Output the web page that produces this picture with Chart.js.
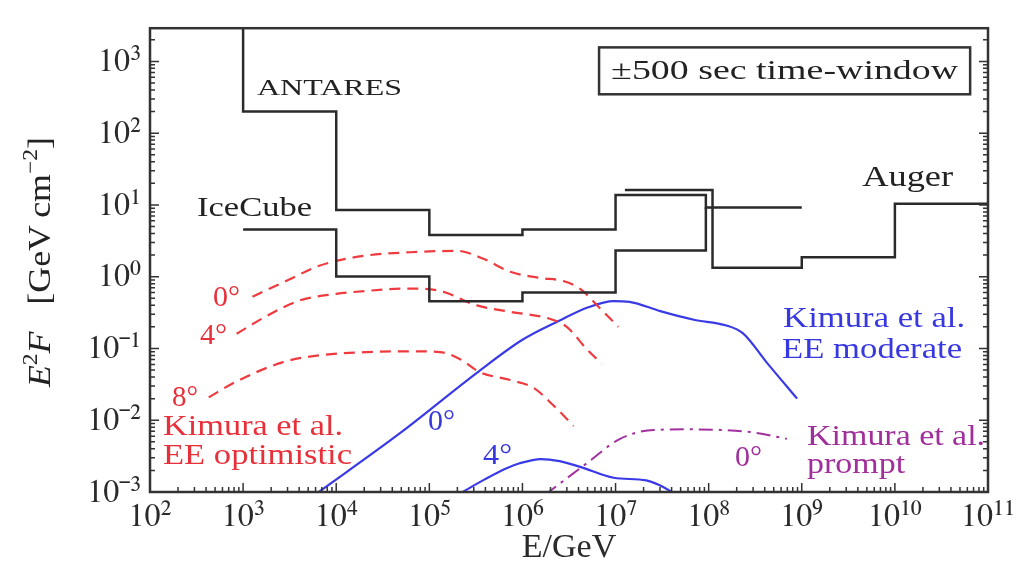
<!DOCTYPE html>
<html><head><meta charset="utf-8">
<script src="https://cdn.jsdelivr.net/npm/chart.js@4.4.1/dist/chart.umd.min.js"></script>
<style>html,body{margin:0;padding:0;background:#fff;}#wrap{width:1027px;height:574px;}</style>
</head><body><div id="wrap"><canvas id="c" width="1027" height="574"></canvas></div>
<script>
// ---------- data ----------
const xTicks = [1e2, 1e3, 1e4, 1e5, 1e6, 1e7, 1e8, 1e9, 1e10, 1e11];
const yTicks = [1e-3, 1e-2, 1e-1, 1e0, 1e1, 1e2, 1e3];

// step limits (bin start energies, level from that energy on)
const antaresE = [1e3, 1e3, 1e4, 1e5, 1e6, 1e7, 9.33e7, 1e9];
const antaresF = [1e4, 200, 8.5, 3.8, 4.55, 13.8, 9.2, 9.2];
const icecubeE = [1e3, 1e4, 1e5, 1e6, 1e7, 9.33e7];
const icecubeF = [4.55, 1.01, 0.454, 0.60, 2.31, 9.2];
const augerE = [1.26e7, 1.1e8, 1e9, 1e10, 1e11];
const augerF = [16.1, 1.33, 1.87, 10.4, 10.4];

// Kimura et al. EE optimistic (red dashed)
const opt0E = [1.26e3, 3.16e3, 6.17e3, 1.0e4, 2.14e4, 6.17e4, 2.0e5, 3.8e5, 7.41e5, 1.55e6, 2.75e6, 4.17e6, 6.76e6, 1.07e7];
const opt0F = [0.525, 0.92, 1.38, 1.66, 1.98, 2.19, 2.29, 1.78, 1.17, 0.96, 0.87, 0.676, 0.366, 0.20];
const opt4E = [8.51e2, 1.78e3, 4.07e3, 1.0e4, 2.14e4, 6.17e4, 1.30e5, 3.24e5, 7.41e5, 2.0e6, 2.99e6, 4.9e6, 7.08e6];
const opt4F = [0.16, 0.282, 0.468, 0.575, 0.635, 0.684, 0.635, 0.398, 0.324, 0.257, 0.20, 0.098, 0.0617];
const opt8E = [4.27e2, 8.51e2, 2.69e3, 6.17e3, 2.14e4, 6.17e4, 1.30e5, 2.14e5, 3.47e5, 7.41e5, 1.32e6, 2.14e6, 3.55e6];
const opt8F = [0.0209, 0.0347, 0.0646, 0.0794, 0.0891, 0.0912, 0.0891, 0.0708, 0.0468, 0.0363, 0.0282, 0.0162, 0.0083];

// Kimura et al. EE moderate (blue solid)
const mod0E = [6.17e3, 4.84e4, 3.24e5, 1.0e6, 2.51e6, 5.01e6, 9.55e6, 1.41e7, 3.02e7, 6.92e7, 1.55e8, 2.34e8, 4.17e8, 8.91e8];
const mod0F = [9.55e-4, 6.6e-3, 0.0457, 0.132, 0.245, 0.372, 0.457, 0.447, 0.331, 0.251, 0.209, 0.162, 0.0646, 0.020];
const mod4E = [2.14e5, 3.98e5, 6.76e5, 9.33e5, 1.58e6, 2.51e6, 4.17e6, 9.55e6, 2.14e7, 3.02e7, 4.57e7];
const mod4F = [9.55e-4, 1.51e-3, 2.14e-3, 2.51e-3, 2.88e-3, 2.69e-3, 2.24e-3, 1.58e-3, 1.45e-3, 1.23e-3, 9.1e-4];

// Kimura et al. prompt (purple dash-dot)
const prompt0E = [1.74e6, 4.9e6, 1.12e7, 2.57e7, 5.75e7, 1.32e8, 3.02e8, 6.92e8];
const prompt0F = [9.1e-4, 2.51e-3, 5.5e-3, 7.33e-3, 7.46e-3, 7.33e-3, 6.76e-3, 5.5e-3];

// text annotations (data coordinates)
const notes = [
  {t:'ANTARES', x:1.41e3, y:336, size:23, w:145, c:'#222'},
  {t:'IceCube', x:320, y:7.0, size:27, w:115, c:'#222'},
  {t:'Auger', x:4.45e9, y:18.2, size:29, w:91, c:'#222'},
  {t:'0°', x:475, y:0.389, size:30, w:27, c:'#e8303a'},
  {t:'4°', x:344, y:0.117, size:30, w:27, c:'#e8303a'},
  {t:'8°', x:172, y:0.0159, size:30, w:26, c:'#e8303a'},
  {t:'Kimura et al.', x:138, y:0.00614, size:30, w:180, c:'#e8303a'},
  {t:'EE optimistic', x:138, y:0.00244, size:30, w:189, c:'#e8303a'},
  {t:'0°', x:9.68e4, y:0.00738, size:30, w:27, c:'#3838e0'},
  {t:'4°', x:3.78e5, y:0.00244, size:30, w:29, c:'#3838e0'},
  {t:'Kimura et al.', x:6.3e8, y:0.198, size:30, w:182, c:'#3838e0'},
  {t:'EE moderate', x:6.14e8, y:0.074, size:30, w:180, c:'#3838e0'},
  {t:'Kimura et al.', x:1.14e9, y:0.00451, size:30, w:178, c:'#a02f9c'},
  {t:'prompt', x:1.14e9, y:0.00185, size:30, w:98, c:'#a02f9c'},
  {t:'0°', x:1.92e8, y:0.00229, size:30, w:27, c:'#a02f9c'}
];
const boxText = '±500 sec time-window';
const boxRange = {x0:6.65e6, x1:6.43e10, y0:348, y1:1567};

// ---------- helpers ----------
const FONT = '"Liberation Serif", "Times New Roman", serif';
const TICKFONT = '"FreeSerif", "Liberation Serif", serif';
function pts(E, F){ return E.map((e,i)=>({x:e, y:F[i]})); }
function sup(s){ const m={'0':'⁰','1':'¹','2':'²','3':'³','4':'⁴','5':'⁵','6':'⁶','7':'⁷','8':'⁸','9':'⁹','-':'⁻'}; return s.split('').map(c=>m[c]||c).join(''); }
function powLabel(v){ const e=Math.round(Math.log10(v)); return '10'+sup(String(e)); }

const frameTicks = {
  id:'frameTicks',
  afterDatasetsDraw(chart){
    const {ctx, chartArea:a, scales:{x, y}} = chart;
    ctx.save();
    ctx.strokeStyle = '#333'; ctx.lineWidth = 1.5;
    ctx.beginPath();
    for (let d=-3; d<=3; d++) for (let k=1; k<=9; k++){
      const v = k*Math.pow(10,d); if (v < y.min || v > y.max) continue;
      const py = y.getPixelForValue(v); const len = k===1 ? 9 : 5;
      ctx.moveTo(a.left, py); ctx.lineTo(a.left+len, py);
      ctx.moveTo(a.right, py); ctx.lineTo(a.right-len, py);
    }
    for (let d=2; d<=11; d++) for (let k=1; k<=9; k++){
      const v = k*Math.pow(10,d); if (v < x.min || v > x.max) continue;
      const px = x.getPixelForValue(v); const len = k===1 ? 9 : 5;
      ctx.moveTo(px, a.bottom); ctx.lineTo(px, a.bottom-len);
    }
    ctx.stroke();
    ctx.lineWidth = 2.5; ctx.strokeStyle = '#333';
    ctx.strokeRect(a.left, a.top, a.right-a.left, a.bottom-a.top);
    ctx.restore();
  },
  afterDraw(chart){
    const {ctx, chartArea:a, scales:{x, y}} = chart;
    ctx.save();
    const bx0 = x.getPixelForValue(boxRange.x0), bx1 = x.getPixelForValue(boxRange.x1);
    const by0 = y.getPixelForValue(boxRange.y1), by1 = y.getPixelForValue(boxRange.y0);
    ctx.fillStyle = '#fff'; ctx.fillRect(bx0, by0, bx1-bx0, by1-by0);
    ctx.strokeStyle = '#333'; ctx.lineWidth = 2.5; ctx.strokeRect(bx0, by0, bx1-bx0, by1-by0);
    ctx.font = `27px ${FONT}`;
    const bw = ctx.measureText(boxText).width, target = 347;
    ctx.save(); ctx.translate((bx0+bx1)/2 - target/2, by1 - 15); ctx.scale(target/bw, 1);
    ctx.fillStyle = '#222'; ctx.textBaseline = 'alphabetic'; ctx.fillText(boxText, 0, 0); ctx.restore();
    for (const n of notes){
      ctx.font = `${n.size}px ${FONT}`;
      const m = ctx.measureText(n.t).width;
      ctx.save();
      ctx.translate(x.getPixelForValue(n.x), y.getPixelForValue(n.y));
      ctx.scale(n.w/m, 1);
      ctx.fillStyle = n.c; ctx.textBaseline = 'alphabetic'; ctx.textAlign = 'left';
      ctx.fillText(n.t, 0, 0);
      ctx.restore();
    }
    // y axis title: E^2 F  [GeV cm^-2], italic E and F
    const parts = [
      {t:'E', f:`italic 32px ${FONT}`, dy:0},
      {t:'2', f:`21px ${FONT}`, dy:-13},
      {t:'F', f:`italic 32px ${FONT}`, dy:0},
      {t:'   [GeV\u2009cm', f:`32px ${FONT}`, dy:0},
      {t:'\u22122', f:`21px ${FONT}`, dy:-13},
      {t:']', f:`32px ${FONT}`, dy:0}
    ];
    let total = 0;
    for (const p of parts){ ctx.font = p.f; p.w = ctx.measureText(p.t).width; total += p.w; }
    const targetLen = 250, sc = targetLen/total;
    ctx.translate(50, (a.top+a.bottom)/2 + 2);
    ctx.rotate(-Math.PI/2);
    ctx.scale(sc, 1);
    ctx.fillStyle = '#222'; ctx.textBaseline = 'alphabetic'; ctx.textAlign = 'left';
    let cx = -total/2;
    for (const p of parts){ ctx.font = p.f; ctx.fillText(p.t, cx, p.dy); cx += p.w; }
    ctx.restore();
  }
};

const stepStyle = {borderColor:'#2a2a2a', borderWidth:2.5, pointRadius:0, stepped:true, fill:false};
const curve = {pointRadius:0, fill:false, cubicInterpolationMode:'monotone'};
const red = '#ef3a3f', blue = '#3a3ae6', purple = '#a3309f';

function build(){
new Chart(document.getElementById('c'), {
  type:'line',
  data:{ datasets:[
    Object.assign({label:'ANTARES', data:pts(antaresE, antaresF)}, stepStyle),
    Object.assign({label:'IceCube', data:pts(icecubeE, icecubeF)}, stepStyle),
    Object.assign({label:'Auger', data:pts(augerE, augerF)}, stepStyle),
    Object.assign({label:'opt 0', data:pts(opt0E, opt0F), borderColor:red, borderWidth:2.2, borderDash:[11,7]}, curve),
    Object.assign({label:'opt 4', data:pts(opt4E, opt4F), borderColor:red, borderWidth:2.2, borderDash:[11,7]}, curve),
    Object.assign({label:'opt 8', data:pts(opt8E, opt8F), borderColor:red, borderWidth:2.2, borderDash:[11,7]}, curve),
    Object.assign({label:'mod 0', data:pts(mod0E, mod0F), borderColor:blue, borderWidth:2.2}, curve),
    Object.assign({label:'mod 4', data:pts(mod4E, mod4F), borderColor:blue, borderWidth:2.2}, curve),
    Object.assign({label:'prompt 0', data:pts(prompt0E, prompt0F), borderColor:purple, borderWidth:2, borderDash:[14,6,3,6]}, curve)
  ]},
  options:{
    responsive:false, animation:false, devicePixelRatio:1,
    layout:{padding:{left:0, right:39, top:8, bottom:0}},
    plugins:{legend:{display:false}, tooltip:{enabled:false}},
    scales:{
      x:{type:'logarithmic', min:1e2, max:1e11,
        afterBuildTicks(s){ s.ticks = xTicks.map(v=>({value:v})); },
        afterFit(s){ s.height = 82; },
        grid:{display:false, drawTicks:false}, border:{display:false},
        ticks:{autoSkip:false, maxRotation:0, padding:5, color:'#2a2a2a', font:{family:TICKFONT, size:32}, callback:v=>powLabel(v)},
        title:{display:true, text:'E/GeV', color:'#2a2a2a', font:{family:FONT, size:34}, padding:{top:0, bottom:6}}
      },
      y:{type:'logarithmic', min:1e-3, max:2900,
        afterBuildTicks(s){ s.ticks = yTicks.map(v=>({value:v})); },
        afterFit(s){ s.width = 150; },
        grid:{display:false, drawTicks:false}, border:{display:false},
        ticks:{autoSkip:false, padding:9, color:'#2a2a2a', font:{family:TICKFONT, size:32}, callback:v=>powLabel(v)}
      }
    }
  },
  plugins:[frameTicks]
});
}
const loads = ['30px "Liberation Serif"', 'italic 30px "Liberation Serif"', '30px "FreeSerif"'].map(f=>document.fonts.load(f).catch(()=>null));
Promise.all(loads).then(build, build);
</script></body></html>
